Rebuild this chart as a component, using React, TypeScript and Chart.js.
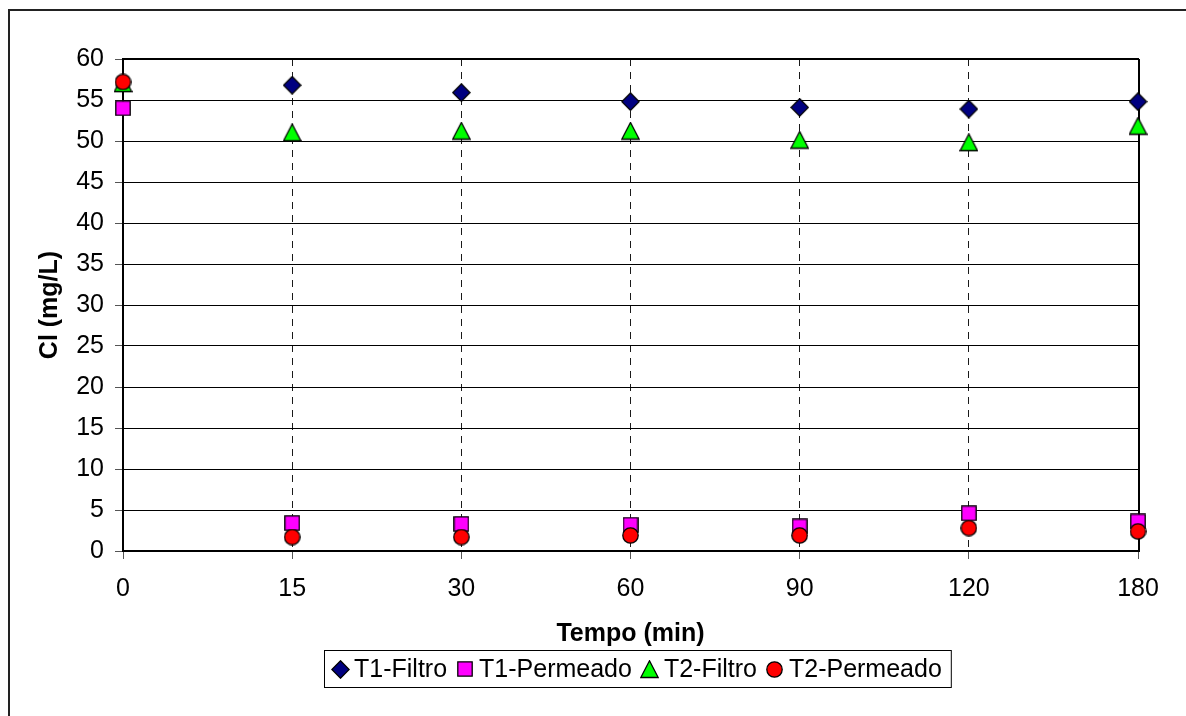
import React, { useEffect, useRef } from 'react';
import { Chart, registerables } from 'chart.js';

Chart.register(...registerables);

// ---- data ----
const categories = ['0', '15', '30', '60', '90', '120', '180'];
// no T1-Filtro marker is visible at t = 0 in the reference
const t1Filtro = [null, 56.8, 55.9, 54.8, 54.1, 53.9, 54.8];
const t1Permeado = [54.0, 3.4, 3.3, 3.2, 3.0, 4.6, 3.6];
const t2Filtro = [57.0, 51.0, 51.2, 51.2, 50.1, 49.8, 51.8];
const t2Permeado = [57.2, 1.7, 1.7, 1.9, 1.9, 2.8, 2.4];
const seriesLabels = ['T1-Filtro', 'T1-Permeado', 'T2-Filtro', 'T2-Permeado'];
const yMin = 0;
const yMax = 60;
const yStep = 5;
const xTitle = 'Tempo (min)';
const yTitle = 'Cl (mg/L)';

const FONT = "'Liberation Sans', Arial, Helvetica, sans-serif";

type Kind = 'diamond' | 'square' | 'triangle' | 'circle';

function makeMarker(kind: Kind, fill: string): HTMLCanvasElement {
  const s = kind === 'square' ? 16 : kind === 'circle' ? 17 : 19;
  const c = document.createElement('canvas');
  c.width = s;
  c.height = s;
  const g = c.getContext('2d')!;
  g.fillStyle = fill;
  g.strokeStyle = '#000';
  g.lineWidth = 1.3;
  g.beginPath();
  const m = 0.8;
  if (kind === 'diamond') {
    g.moveTo(s / 2, m);
    g.lineTo(s - m, s / 2);
    g.lineTo(s / 2, s - m);
    g.lineTo(m, s / 2);
  } else if (kind === 'square') {
    g.rect(m, m, s - 2 * m, s - 2 * m);
  } else if (kind === 'triangle') {
    g.moveTo(s / 2, m);
    g.lineTo(s - m, s - 1.5);
    g.lineTo(m, s - 1.5);
  } else {
    g.arc(s / 2, s / 2, s / 2 - m, 0, Math.PI * 2);
  }
  g.closePath();
  g.fill();
  g.stroke();
  return c;
}

const framePlugin = {
  id: 'frameAndLegend',
  beforeDatasetsDraw(chart: any) {
    const { ctx, chartArea: a } = chart;
    ctx.save();
    ctx.strokeStyle = '#000';
    ctx.lineWidth = 2;
    ctx.beginPath();
    ctx.moveTo(a.left - 1, a.top);
    ctx.lineTo(a.right + 1, a.top);
    ctx.moveTo(a.right + 1, a.top);
    ctx.lineTo(a.right + 1, a.bottom + 1);
    ctx.stroke();
    ctx.restore();
  },
  afterDraw(chart: any) {
    const { ctx, width, height } = chart;
    ctx.save();
    // outer chart frame (top and left visible)
    ctx.strokeStyle = '#222';
    ctx.lineWidth = 2;
    ctx.beginPath();
    ctx.moveTo(9, height);
    ctx.lineTo(9, 10);
    ctx.lineTo(width, 10);
    ctx.stroke();

    // legend
    const cy = 669;
    ctx.font = `25px ${FONT}`;
    ctx.textBaseline = 'middle';
    ctx.textAlign = 'left';
    ctx.fillStyle = '#000';
    let x = 340;
    const start = 324;
    chart.data.datasets.forEach((ds: any) => {
      const img = ds.pointStyle as HTMLCanvasElement;
      ctx.drawImage(img, Math.round(x - img.width / 2), Math.round(cy - img.height / 2));
      const tx = x + 14;
      ctx.fillText(ds.label, tx, cy + 1);
      x = tx + ctx.measureText(ds.label).width + 18;
    });
    const end = x - 18 + 9;
    ctx.strokeStyle = '#000';
    ctx.lineWidth = 1;
    ctx.strokeRect(start + 0.5, 650.5, end - start, 37);
    ctx.restore();
  },
};

export default function App() {
  const ref = useRef<HTMLCanvasElement | null>(null);

  useEffect(() => {
    if (!ref.current) return;
    const markers = [
      makeMarker('diamond', '#000080'),
      makeMarker('square', '#FF00FF'),
      makeMarker('triangle', '#00FF00'),
      makeMarker('circle', '#FF0000'),
    ];
    const seriesData = [t1Filtro, t1Permeado, t2Filtro, t2Permeado];
    const datasets = seriesData.map((d, i) => ({
      label: seriesLabels[i],
      data: d,
      // later series drawn on top, as in the reference
      order: seriesData.length - i,
      showLine: false,
      spanGaps: true,
      pointStyle: markers[i],
      pointRadius: 8,
      pointHoverRadius: 8,
      borderColor: '#000',
      backgroundColor: '#000',
      clip: false as any,
    }));

    const lastIdx = categories.length - 1;
    const chart = new Chart(ref.current, {
      type: 'line',
      data: { labels: categories, datasets },
      options: {
        animation: false,
        responsive: false,
        maintainAspectRatio: false,
        events: [],
        layout: { padding: { left: 0, top: 59, right: 48, bottom: 65 } },
        plugins: {
          legend: { display: false },
          tooltip: { enabled: false },
        },
        scales: {
          x: {
            type: 'category',
            offset: false,
            grid: {
              offset: false,
              color: (c: any) =>
                c.index === 0 || c.index === lastIdx ? 'rgba(0,0,0,0)' : '#1a1a1a',
              lineWidth: 1,
              tickLength: 8,
              tickColor: '#555',
              drawTicks: true,
            },
            border: { display: true, color: '#000', width: 2, dash: [7, 6] },
            ticks: {
              color: '#000',
              font: { family: FONT, size: 25 },
              padding: 15,
              maxRotation: 0,
              autoSkip: false,
            },
            title: {
              display: true,
              text: xTitle,
              color: '#000',
              font: { family: FONT, size: 25, weight: 'bold' },
              padding: { top: 0, bottom: 2 },
            },
            afterFit: (s: any) => {
              s.height = 100;
              s.paddingLeft = 0;
              s.paddingRight = 0;
              s.paddingTop = 0;
              s.paddingBottom = 0;
            },
          },
          y: {
            min: yMin,
            max: yMax,
            ticks: {
              stepSize: yStep,
              color: '#000',
              font: { family: FONT, size: 25 },
              padding: 11,
            },
            grid: {
              color: '#000',
              lineWidth: 1,
              tickLength: 8,
              tickColor: '#555',
            },
            border: { display: true, color: '#000', width: 2 },
            title: {
              display: true,
              text: yTitle,
              color: '#000',
              font: { family: FONT, size: 25, weight: 'bold' },
              padding: { top: 35, bottom: 0 },
            },
            afterFit: (s: any) => {
              s.width = 123;
              s.paddingLeft = 0;
              s.paddingRight = 0;
              s.paddingTop = 0;
              s.paddingBottom = 0;
            },
          },
        },
      } as any,
      plugins: [framePlugin],
    });
    return () => chart.destroy();
  }, []);

  return (
    <div
      style={{
        position: 'absolute',
        left: 0,
        top: 0,
        width: 1186,
        height: 716,
        overflow: 'hidden',
        background: '#fff',
      }}
    >
      <canvas ref={ref} width={1186} height={716} style={{ display: 'block', width: 1186, height: 716 }} />
    </div>
  );
}
